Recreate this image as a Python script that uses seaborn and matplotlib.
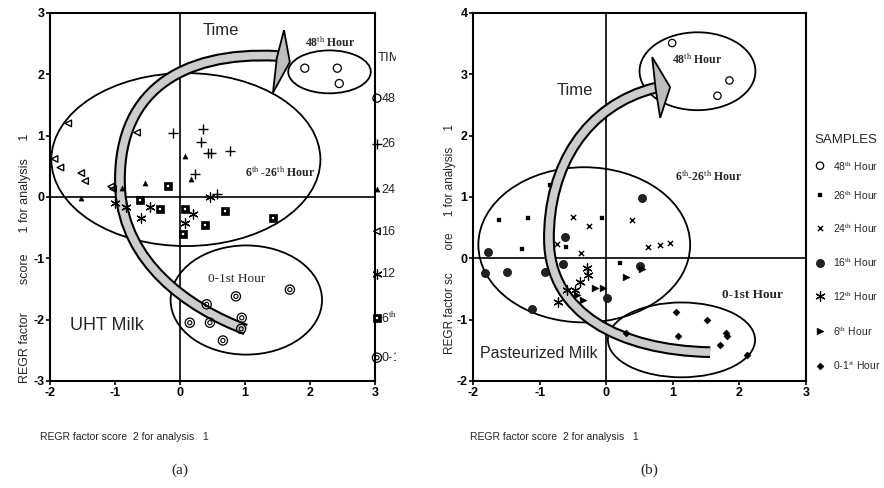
import numpy as np
import pandas as pd
import matplotlib
matplotlib.use("Agg")
import matplotlib.pyplot as plt
import seaborn as sns
from matplotlib.patches import Ellipse, PathPatch, Polygon
from matplotlib.path import Path
from matplotlib.transforms import Bbox, TransformedBbox

# ---------------- data: (a) UHT milk ----------------
groups = ["48", "26", "24", "16", "12", "6", "0-1"]
legend_labels = ["48$^{\\rm th}$ Hour", "26$^{\\rm th}$ Hour", "24$^{\\rm th}$ Hour",
                 "16$^{\\rm th}$ Hour", "12$^{\\rm th}$ Hour", "6$^{\\rm th}$ Hour",
                 "0-1$^{\\rm st}$ Hour"]

uht_48_x = [1.92, 2.42, 2.45]
uht_48_y = [2.10, 2.10, 1.85]
uht_26_x = [-0.11, 0.35, 0.32, 0.43, 0.48, 0.77, 0.23, 0.57]
uht_26_y = [1.05, 1.11, 0.89, 0.72, 0.72, 0.75, 0.38, 0.05]
uht_24_x = [-1.53, -0.54, 0.07, 0.17, -0.90]
uht_24_y = [-0.02, 0.23, 0.67, 0.30, 0.15]
uht_16_x = [-1.72, -1.93, -1.84, -1.52, -1.46, -0.66, -1.06, -1.03]
uht_16_y = [1.20, 0.62, 0.48, 0.39, 0.26, 1.05, 0.17, 0.13]
uht_12_x = [-1.00, -0.83, -0.60, -0.46, 0.20, 0.07, 0.46]
uht_12_y = [-0.10, -0.17, -0.34, -0.17, -0.28, -0.43, 0.00]
uht_6_x = [-0.18, -0.62, -0.31, 0.07, 0.38, 0.69, 0.05, 1.43]
uht_6_y = [0.18, -0.05, -0.20, -0.20, -0.46, -0.23, -0.61, -0.34]
uht_01_x = [0.86, 1.69, 0.41, 0.95, 0.15, 0.46, 0.66, 0.94]
uht_01_y = [-1.62, -1.51, -1.75, -1.97, -2.05, -2.05, -2.34, -2.15]

# ---------------- data: (b) pasteurized milk ----------------
past_48_x = [0.99, 1.85, 1.67]
past_48_y = [3.51, 2.90, 2.65]
past_26_x = [-1.61, -1.17, -0.06, -1.26, -0.60, 0.21, -0.85]
past_26_y = [0.62, 0.65, 0.65, 0.16, 0.18, -0.07, 1.20]
past_24_x = [-0.50, -0.26, 0.39, -0.74, 0.63, 0.81, 0.96, -0.38]
past_24_y = [0.67, 0.52, 0.62, 0.23, 0.18, 0.21, 0.25, 0.08]
past_16_x = [-1.77, -1.82, -1.49, -0.92, -0.65, -1.11, 0.01, 0.50, -0.62, 0.53]
past_16_y = [0.11, -0.24, -0.23, -0.23, -0.10, -0.83, -0.65, -0.13, 0.34, 0.98]
past_12_x = [-0.29, -0.27, -0.39, -0.47, -0.59, -0.72]
past_12_y = [-0.16, -0.28, -0.39, -0.52, -0.52, -0.72]
past_6_x = [-0.17, -0.05, -0.35, 0.29, 0.54, -0.44]
past_6_y = [-0.49, -0.49, -0.68, -0.31, -0.17, -0.60]
past_01_x = [1.05, 1.52, 1.08, 1.80, 1.82, 1.71, 2.12, 0.29]
past_01_y = [-0.88, -1.00, -1.26, -1.21, -1.26, -1.42, -1.58, -1.22]

# group ellipses (center x, center y, width, height)
uht_ell_cx = [0.09, 2.30, 1.02]
uht_ell_cy = [0.61, 2.04, -1.68]
uht_ell_w = [4.14, 1.27, 2.33]
uht_ell_h = [2.82, 0.70, 1.78]
past_ell_cx = [-0.33, 1.37, 1.13]
past_ell_cy = [0.22, 3.05, -1.33]
past_ell_w = [3.18, 1.74, 2.21]
past_ell_h = [2.53, 1.27, 1.22]

# time arrows (cubic bezier control points) and heads
uht_arrow_x = [1.01, 0.10, -0.85, -0.92, -1.00, 0.00, 1.50]
uht_arrow_y = [-2.16, -1.80, -1.06, 0.11, 1.70, 2.38, 2.30]
uht_head_x = [1.60, 1.69, 1.43, 1.49]
uht_head_y = [2.72, 2.20, 1.70, 2.27]
past_arrow_x = [1.56, 0.20, -0.85, -0.86, -0.87, -0.30, 0.74]
past_arrow_y = [-1.53, -1.50, -0.90, 0.30, 1.50, 2.50, 2.78]
past_head_x = [0.69, 0.96, 0.81, 0.74]
past_head_y = [3.28, 2.79, 2.29, 2.78]

# ---------------- style ----------------
sns.set_theme(style="white")
plt.rcParams['font.family'] = ['Liberation Sans', 'DejaVu Sans']
plt.rcParams['mathtext.fontset'] = 'stix'

fig = plt.figure(figsize=(8.84, 4.88), dpi=100)
axA = fig.add_axes([0.0566, 0.2193, 0.3676, 0.7541])
axB = fig.add_axes([0.5351, 0.2193, 0.3767, 0.7541])

SERIF = ['Liberation Serif', 'DejaVu Serif']
NARROW = ['Liberation Sans Narrow', 'Liberation Sans', 'DejaVu Sans']


def frame(ax, ylo, yhi):
    ax.set_xlim(-2, 3)
    ax.set_ylim(ylo, yhi)
    ax.set_xticks(range(-2, 4))
    ax.set_yticks(range(ylo, yhi + 1))
    ax.set_xticklabels([str(v) for v in range(-2, 4)])
    ax.set_yticklabels([str(v) for v in range(ylo, yhi + 1)])
    for s in ax.spines.values():
        s.set_color('black')
        s.set_linewidth(1.5)
    ax.tick_params(direction='out', length=3, width=1.2, colors='black',
                   labelsize=9, pad=1, left=True, bottom=True)
    for lab in ax.get_xticklabels() + ax.get_yticklabels():
        lab.set_fontweight('bold')
    ax.axhline(0, color='black', lw=1.2, zorder=1)
    ax.axvline(0, color='black', lw=1.2, zorder=1)


def sc(ax, x, y, **kw):
    df = pd.DataFrame({'x': x, 'y': y})
    sns.scatterplot(data=df, x='x', y='y', ax=ax, legend=False, **kw)


def ellipses(ax, cx, cy, w, h):
    for a, b, c, d in zip(cx, cy, w, h):
        ax.add_patch(Ellipse((a, b), c, d, fill=False, edgecolor='black', lw=1.3, zorder=3))


def arrow(ax, xs, ys, hx, hy):
    codes = [Path.MOVETO] + [Path.CURVE4] * (len(xs) - 1)
    path = Path(np.column_stack([xs, ys]), codes)
    ax.add_patch(PathPatch(path, fill=False, lw=8.5, edgecolor='black', capstyle='butt', zorder=4))
    ax.add_patch(PathPatch(path, fill=False, lw=5.5, edgecolor='#cdcdcd', capstyle='butt', zorder=5))
    ax.add_patch(Polygon(np.column_stack([hx, hy]), closed=True, facecolor='#bdbdbd',
                         edgecolor='black', lw=1.3, zorder=6))


def uht_marker(ax, x, y, g, clip=True):
    kw = dict(clip_on=clip, zorder=7)
    if g == "48":
        sc(ax, x, y, marker='o', s=34, facecolor='none', edgecolor='black', linewidth=0.9, **kw)
    elif g == "26":
        sc(ax, x, y, marker='+', s=55, color='black', linewidth=1.0, **kw)
    elif g == "24":
        sc(ax, x, y, marker='^', s=14, color='black', edgecolor='black', **kw)
    elif g == "16":
        sc(ax, x, y, marker='<', s=22, facecolor='none', edgecolor='black', linewidth=1.0, **kw)
    elif g == "12":
        sc(ax, x, y, marker=(6, 2, 0), s=45, color='black', linewidth=0.9, **kw)
    elif g == "6":
        sc(ax, x, y, marker='s', s=36, color='black', edgecolor='black', **kw)
        sc(ax, x, y, marker='s', s=3, color='white', edgecolor='white', **kw)
    else:
        sc(ax, x, y, marker='o', s=44, facecolor='none', edgecolor='black', linewidth=0.9, **kw)
        sc(ax, x, y, marker='o', s=9, facecolor='none', edgecolor='black', linewidth=0.8, **kw)


def past_marker(ax, x, y, g, clip=True):
    kw = dict(clip_on=clip, zorder=7)
    if g == "48":
        sc(ax, x, y, marker='o', s=28, facecolor='none', edgecolor='black', linewidth=0.9, **kw)
    elif g == "26":
        sc(ax, x, y, marker='s', s=7, color='black', edgecolor='black', **kw)
    elif g == "24":
        sc(ax, x, y, marker='x', s=14, color='black', linewidth=1.0, **kw)
    elif g == "16":
        sc(ax, x, y, marker='o', s=34, color='#222222', edgecolor='black', **kw)
    elif g == "12":
        sc(ax, x, y, marker=(6, 2, 0), s=45, color='black', linewidth=0.9, **kw)
    elif g == "6":
        sc(ax, x, y, marker='>', s=24, color='black', edgecolor='black', **kw)
    else:
        sc(ax, x, y, marker='D', s=13, color='black', edgecolor='black', **kw)


# ---------------- panel (a) ----------------
frame(axA, -3, 3)
ellipses(axA, uht_ell_cx, uht_ell_cy, uht_ell_w, uht_ell_h)
arrow(axA, uht_arrow_x, uht_arrow_y, uht_head_x, uht_head_y)
uht_sets = [(uht_48_x, uht_48_y), (uht_26_x, uht_26_y), (uht_24_x, uht_24_y),
            (uht_16_x, uht_16_y), (uht_12_x, uht_12_y), (uht_6_x, uht_6_y),
            (uht_01_x, uht_01_y)]
for g, (x, y) in zip(groups, uht_sets):
    uht_marker(axA, x, y, g)

axA.text(0.35, 2.72, "Time", fontsize=12, va='center', ha='left', zorder=8)
axA.text(1.92, 2.52, "48$^{\\rm th}$ Hour", fontsize=8.5, family=SERIF, fontweight='bold',
         va='center', ha='left', zorder=8)
axA.text(1.0, 0.39, "6$^{\\rm th}$ -26$^{\\rm th}$ Hour", fontsize=8.5, family=SERIF,
         fontweight='bold', va='center', ha='left', zorder=8)
axA.text(0.43, -1.34, "0-1st Hour", fontsize=9.5, family=SERIF, va='center', ha='left', zorder=8)
axA.text(-1.69, -2.1, "UHT Milk", fontsize=13, va='center', ha='left', zorder=8)

# clipped legend for (a)
clip_a = TransformedBbox(Bbox.from_extents(0, 0, 396 / 884, 1), fig.transFigure)
legA_marker_x = 3.03
legA_text_x = 3.09
legA_title_y = 2.26
legA_item_y = [1.61, 0.87, 0.13, -0.56, -1.25, -1.98, -2.62]
t = axA.text(legA_text_x - 0.05, legA_title_y, "TIME", fontsize=9.5, va='center', ha='left',
             clip_on=True)
t.set_clip_box(clip_a)
for g, lab, yy in zip(groups, legend_labels, legA_item_y):
    uht_marker(axA, [legA_marker_x], [yy], g, clip=False)
    t = axA.text(legA_text_x, yy, lab, fontsize=9, va='center', ha='left', clip_on=True)
    t.set_clip_box(clip_a)

# ---------------- panel (b) ----------------
frame(axB, -2, 4)
ellipses(axB, past_ell_cx, past_ell_cy, past_ell_w, past_ell_h)
arrow(axB, past_arrow_x, past_arrow_y, past_head_x, past_head_y)
past_sets = [(past_48_x, past_48_y), (past_26_x, past_26_y), (past_24_x, past_24_y),
             (past_16_x, past_16_y), (past_12_x, past_12_y), (past_6_x, past_6_y),
             (past_01_x, past_01_y)]
for g, (x, y) in zip(groups, past_sets):
    past_marker(axB, x, y, g)

axB.text(-0.74, 2.73, "Time", fontsize=12, va='center', ha='left', zorder=8)
axB.text(0.99, 3.23, "48$^{\\rm th}$ Hour", fontsize=8.5, family=SERIF, fontweight='bold',
         va='center', ha='left', zorder=8)
axB.text(1.03, 1.33, "6$^{\\rm th}$-26$^{\\rm th}$ Hour", fontsize=8.5, family=SERIF,
         fontweight='bold', va='center', ha='left', zorder=8)
axB.text(1.74, -0.6, "0-1st Hour", fontsize=9.5, family=SERIF, fontweight='bold',
         va='center', ha='left', zorder=8)
axB.text(-1.89, -1.55, "Pasteurized Milk", fontsize=11.5, va='center', ha='left', zorder=8)

legB_marker_x = 3.21
legB_text_x = 3.40
legB_title_y = 1.93
legB_item_y = [1.51, 1.03, 0.49, -0.07, -0.62, -1.19, -1.75]
axB.text(legB_marker_x - 0.08, legB_title_y, "SAMPLES", fontsize=9.5, va='center', ha='left',
         family=NARROW, clip_on=False)
for g, lab, yy in zip(groups, legend_labels, legB_item_y):
    past_marker(axB, [legB_marker_x], [yy], g, clip=False)
    axB.text(legB_text_x, yy, lab, fontsize=7.5, va='center', ha='left', family=NARROW,
             clip_on=False)

# remove seaborn's automatic axis labels
for ax in (axA, axB):
    ax.set_xlabel('')
    ax.set_ylabel('')

# ---------------- axis titles & captions ----------------
fig.text(0.045, 0.1045, "REGR factor score  2 for analysis   1", fontsize=7.5,
         family=NARROW, ha='left', va='center')
fig.text(0.532, 0.1045, "REGR factor score  2 for analysis   1", fontsize=7.5,
         family=NARROW, ha='left', va='center')
fig.text(0.028, 0.47, "REGR factor        score      1 for analysis     1", fontsize=9,
         family=NARROW, rotation=90, ha='center', va='center')
fig.text(0.509, 0.51, "REGR factor sc       ore     1 for analysis     1", fontsize=8.5,
         family=NARROW, rotation=90, ha='center', va='center')
fig.text(0.204, 0.037, "(a)", fontsize=11, family=SERIF, ha='center', va='center')
fig.text(0.735, 0.037, "(b)", fontsize=11, family=SERIF, ha='center', va='center')

fig.savefig("out.png", dpi=100)
